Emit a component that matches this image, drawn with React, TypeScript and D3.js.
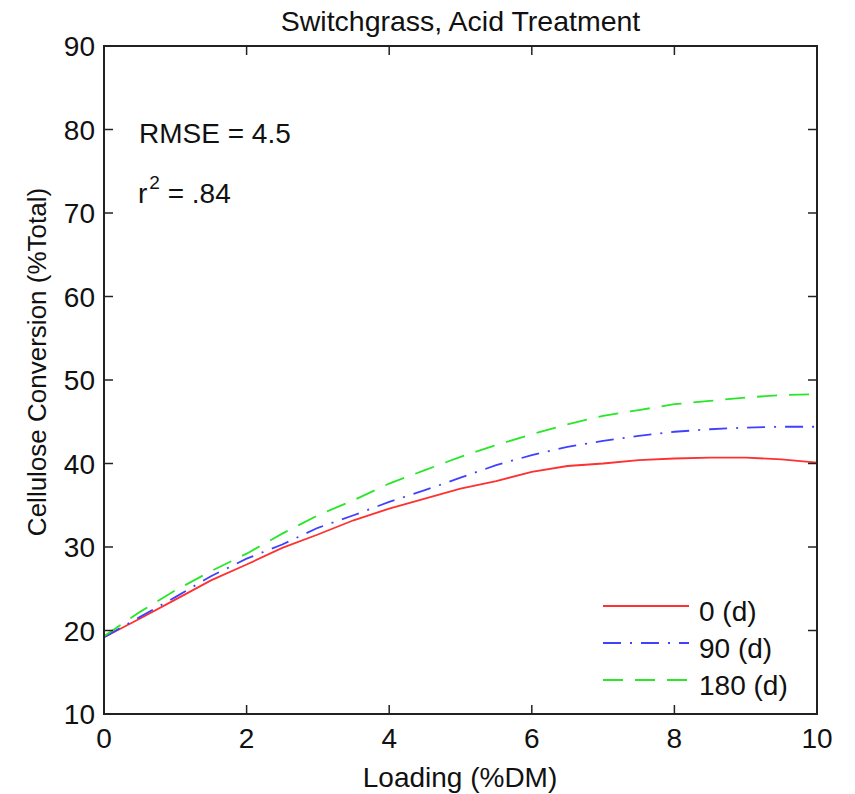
import React from "react";
import * as d3 from "d3";

const loading = [0, 0.5, 1, 1.5, 2, 2.5, 3, 3.5, 4, 4.5, 5, 5.5, 6, 6.5, 7, 7.5, 8, 8.5, 9, 9.5, 10];
const days0 = [19.2, 21.4, 23.7, 26.0, 27.9, 29.9, 31.5, 33.2, 34.6, 35.8, 37.0, 37.9, 39.0, 39.7, 40.0, 40.4, 40.6, 40.7, 40.7, 40.5, 40.1];
const days90 = [19.2, 21.6, 24.0, 26.5, 28.6, 30.3, 32.3, 33.8, 35.4, 36.8, 38.3, 39.8, 41.0, 42.0, 42.7, 43.3, 43.8, 44.1, 44.3, 44.4, 44.4];
const days180 = [19.3, 22.2, 24.8, 27.1, 29.2, 31.6, 33.8, 35.6, 37.6, 39.2, 40.8, 42.2, 43.5, 44.7, 45.7, 46.4, 47.1, 47.5, 47.9, 48.2, 48.3];
const seriesNames = ["0 (d)", "90 (d)", "180 (d)"];
const xTicks = [0, 2, 4, 6, 8, 10];
const yTicks = [10, 20, 30, 40, 50, 60, 70, 80, 90];

const W = 855;
const H = 794;
const L = 104, R = 817, T = 46, B = 714;
const FONT = "'Liberation Sans', Arial, Helvetica, sans-serif";

export default function App() {
  const x = d3.scaleLinear().domain([0, 10]).range([L, R]);
  const y = d3.scaleLinear().domain([10, 90]).range([B, T]);
  const line = d3
    .line<number>()
    .x((_, i) => x(loading[i]))
    .y((d) => y(d));

  const series = [
    { name: seriesNames[0], values: days0, color: "#ff3030", dash: "none" },
    { name: seriesNames[1], values: days90, color: "#4040ff", dash: "18,9,2,9" },
    { name: seriesNames[2], values: days180, color: "#28e628", dash: "20,12" },
  ];
  const tickLen = 9;
  const axisColor = "#222";

  return (
    <svg
      width={W}
      height={H}
      style={{ position: "absolute", left: 0, top: 0, background: "#fff" }}
      fontFamily={FONT}
    >
      <rect x={0} y={0} width={W} height={H} fill="#fff" />
      <g>
        {series.map((s) => (
          <path
            key={s.name}
            d={line(s.values) || ""}
            fill="none"
            stroke={s.color}
            strokeWidth={1.8}
            strokeDasharray={s.dash}
          />
        ))}
      </g>
      <rect x={L} y={T} width={R - L} height={B - T} fill="none" stroke={axisColor} strokeWidth={2} />
      {xTicks.map((t) => (
        <g key={"x" + t}>
          <line x1={x(t)} x2={x(t)} y1={B} y2={B - tickLen} stroke={axisColor} strokeWidth={1.5} />
          <line x1={x(t)} x2={x(t)} y1={T} y2={T + tickLen} stroke={axisColor} strokeWidth={1.5} />
          <text x={x(t)} y={B + 34} fontSize={28} textAnchor="middle" fill="#111">
            {t}
          </text>
        </g>
      ))}
      {yTicks.map((t) => (
        <g key={"y" + t}>
          <line x1={L} x2={L + tickLen} y1={y(t)} y2={y(t)} stroke={axisColor} strokeWidth={1.5} />
          <line x1={R} x2={R - tickLen} y1={y(t)} y2={y(t)} stroke={axisColor} strokeWidth={1.5} />
          <text x={95} y={y(t) + 10} fontSize={28} textAnchor="end" fill="#111">
            {t}
          </text>
        </g>
      ))}
      <text x={(L + R) / 2} y={31} fontSize={28.5} textAnchor="middle" fill="#111">
        Switchgrass, Acid Treatment
      </text>
      <text x={460} y={787} fontSize={28} textAnchor="middle" fill="#111">
        Loading (%DM)
      </text>
      <text
        transform={`translate(46, 362) rotate(-90)`}
        fontSize={26}
        textAnchor="middle"
        fill="#111"
      >
        Cellulose Conversion (%Total)
      </text>
      <text x={139} y={143} fontSize={28} fill="#111">
        RMSE = 4.5
      </text>
      <text x={138} y={203} fontSize={28} fill="#111">
        r
        <tspan fontSize={19} dx={2} dy={-14}>2</tspan>
        <tspan dy={14}> = .84</tspan>
      </text>
      {series.map((s, i) => {
        const ly = 606 + i * 37;
        return (
          <g key={"leg" + s.name}>
            <line x1={603} x2={689} y1={ly} y2={ly} stroke={s.color} strokeWidth={1.8} strokeDasharray={s.dash} />
            <text x={699} y={ly + 15} fontSize={28} fill="#111">
              {s.name}
            </text>
          </g>
        );
      })}
    </svg>
  );
}
